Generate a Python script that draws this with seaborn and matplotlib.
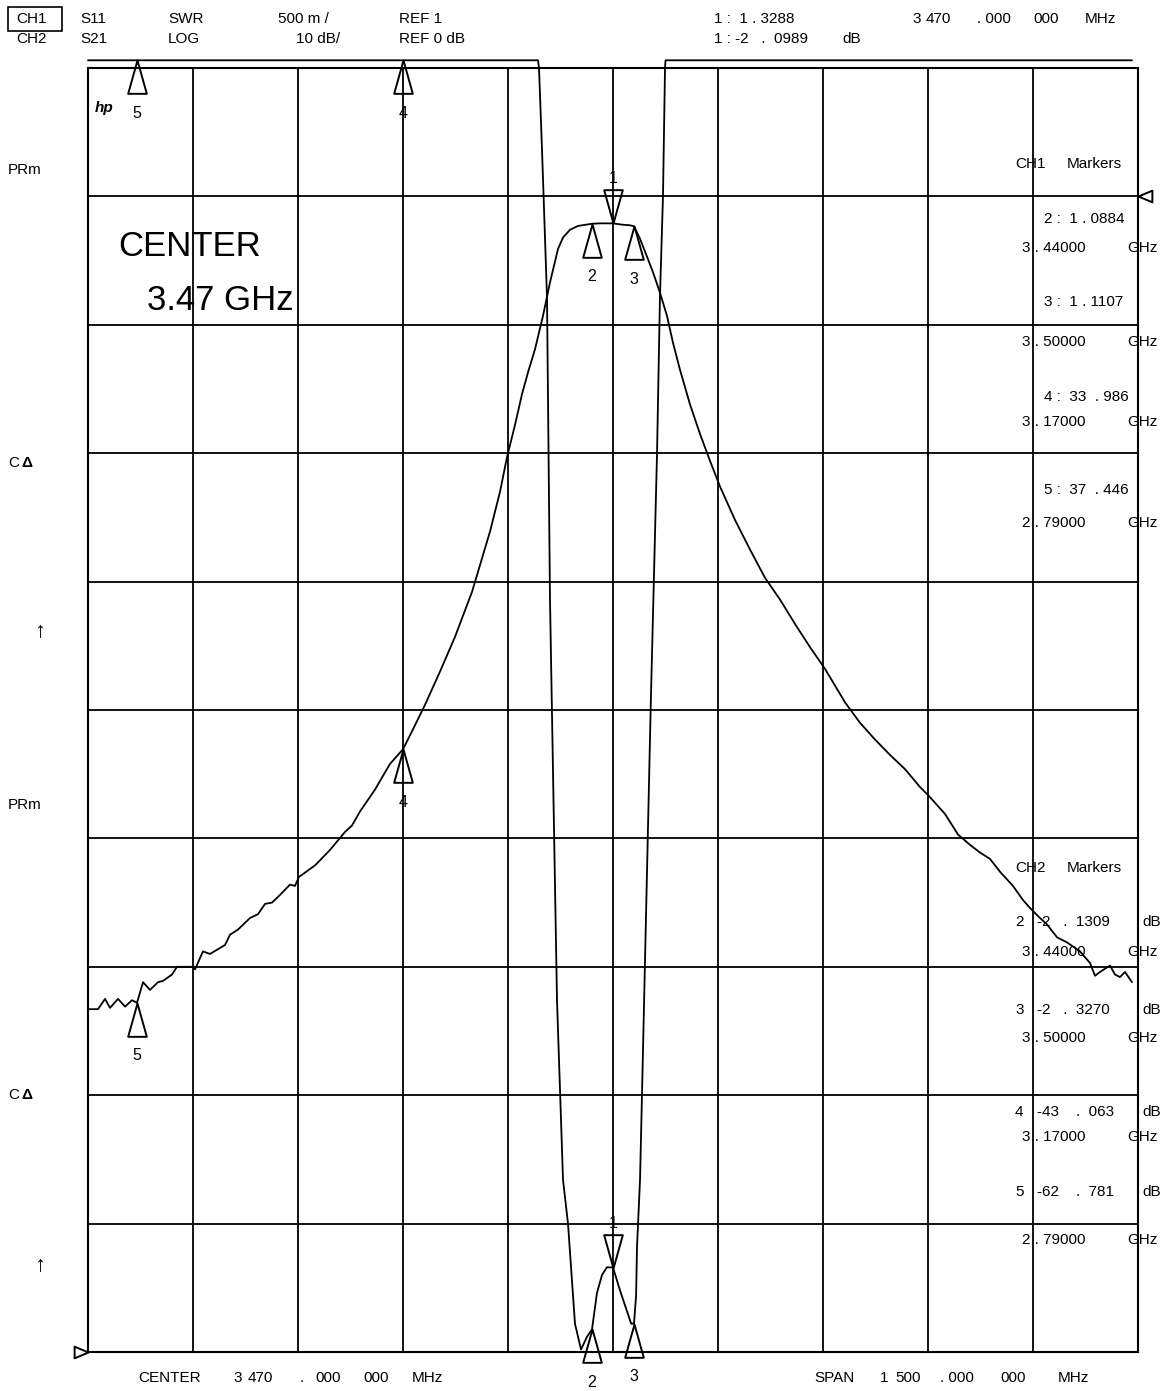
import numpy as np
import matplotlib
matplotlib.use("Agg")
import matplotlib.pyplot as plt
import seaborn as sns
from matplotlib.path import Path
from matplotlib.patches import Rectangle

# CH2: S21 log magnitude trace (GHz, dB)
s21_freq = [2.7200, 2.7201, 2.7257, 2.7343, 2.7443, 2.7514, 2.7629, 2.7729, 2.7829, 2.7900,
            2.7986, 2.8086, 2.8200, 2.8271, 2.8400, 2.8471, 2.8700, 2.8729, 2.8843, 2.8943,
            2.9157, 2.9229, 2.9343, 2.9514, 2.9629, 2.9729, 2.9829, 2.9943, 3.0086, 3.0157,
            3.0214, 3.0443, 3.0657, 3.0871, 3.0971, 3.1086, 3.1300, 3.1514, 3.1700, 3.1843,
            3.2014, 3.2229, 3.2443, 3.2686, 3.2943, 3.3086, 3.3186, 3.3300, 3.3400, 3.3486,
            3.3586, 3.3700, 3.3800, 3.3914, 3.3986, 3.4086, 3.4200, 3.4400, 3.4514, 3.4700,
            3.4829, 3.4943, 3.5000, 3.5086, 3.5186, 3.5271, 3.5371, 3.5471, 3.5557, 3.5657,
            3.5800, 3.5943, 3.6086, 3.6229, 3.6443, 3.6657, 3.6871, 3.7086, 3.7300, 3.7514,
            3.7729, 3.8014, 3.8229, 3.8443, 3.8657, 3.8871, 3.9086, 3.9214, 3.9443, 3.9629,
            3.9800, 3.9943, 4.0086, 4.0229, 4.0414, 4.0557, 4.0671, 4.0800, 4.0900, 4.1043,
            4.1186, 4.1371, 4.1514, 4.1586, 4.1657, 4.1800, 4.1871, 4.1943, 4.2014, 4.2114]
s21_db = [-63.9, -63.3, -63.3, -63.3, -62.5, -63.2, -62.5, -63.1, -62.6, -62.8,
          -61.2, -61.8, -61.2, -61.1, -60.6, -60.0, -60.0, -60.2, -58.8, -59.0,
          -58.3, -57.5, -57.1, -56.2, -55.9, -55.1, -55.0, -54.4, -53.6, -53.7,
          -53.0, -52.1, -50.9, -49.5, -49.0, -47.9, -46.2, -44.2, -43.06, -41.5,
          -39.6, -37.0, -34.3, -30.8, -26.1, -23.0, -20.3, -17.8, -15.4, -13.7,
          -11.9, -9.3, -6.7, -4.1, -3.2, -2.6, -2.3, -2.13, -2.10, -2.10,
          -2.2, -2.25, -2.33, -3.3, -4.7, -5.9, -7.5, -9.3, -11.4, -13.5,
          -16.2, -18.5, -20.6, -22.6, -25.2, -27.5, -29.7, -31.4, -33.3, -35.1,
          -36.8, -39.4, -41.0, -42.3, -43.5, -44.6, -46.0, -46.7, -48.1, -49.7,
          -50.5, -51.1, -51.6, -52.6, -53.7, -54.8, -55.5, -56.2, -56.7, -57.7,
          -58.1, -58.8, -59.7, -60.7, -60.4, -59.9, -60.6, -60.8, -60.4, -61.2]

# CH1: S11 SWR trace; off-screen values sit on the clip line just above the grid
s11_freq = [2.7200, 3.3629, 3.3643, 3.3686, 3.3757, 3.3800, 3.3900, 3.3986, 3.4057, 3.4157,
            3.4243, 3.4330, 3.4400, 3.4471, 3.4543, 3.4614, 3.4700, 3.4800, 3.4960, 3.5000,
            3.5030, 3.5043, 3.5086, 3.5114, 3.5241, 3.5329, 3.5371, 3.5414, 3.5443, 3.5450,
            4.2114]
s11_swr = [6.03, 6.03, 6.0, 5.68, 5.11, 3.93, 2.37, 1.67, 1.50, 1.11,
           1.01, 1.06, 1.088, 1.23, 1.30, 1.33, 1.329, 1.24, 1.11, 1.111,
           1.22, 1.41, 1.67, 2.0, 3.54, 4.50, 5.11, 5.50, 6.0, 6.03,
           6.03]

marker_ids = ["1", "2", "3", "4", "5"]
marker_freq = [3.47, 3.44, 3.50, 3.17, 2.79]
marker_s21 = [-2.0989, -2.1309, -2.3270, -43.063, -62.781]
marker_s11 = [1.3288, 1.0884, 1.1107, 33.986, 37.446]

center_ghz = 3.47
span_ghz = 1.5
s11_clip = 6.03

sns.set_style("white")
plt.rcParams["font.family"] = ["Liberation Sans Narrow", "Liberation Sans", "DejaVu Sans"]
plt.rcParams["text.color"] = "black"

W, H = 1170, 1391
fig = plt.figure(figsize=(W / 100, H / 100), dpi=100)
ax = fig.add_axes([88 / W, 1 - 1352 / H, 1050 / W, 1284 / H])

f0, f1 = center_ghz - span_ghz / 2, center_ghz + span_ghz / 2
ax.set_xlim(f0, f1)
ax.set_ylim(-90, 10)
ax.set_xticks(np.linspace(f0, f1, 11))
ax.set_yticks(np.arange(-90, 11, 10))
ax.grid(True, color="black", lw=1.3)
ax.tick_params(length=0, labelbottom=False, labelleft=False)
for s in ax.spines.values():
    s.set_color("black")
    s.set_linewidth(1.5)

ax2 = ax.twinx()
ax2.set_ylim(1, 6)
ax2.set_yticks([])
for s in ax2.spines.values():
    s.set_visible(False)

sns.lineplot(x=s21_freq, y=s21_db, ax=ax, color="black", lw=1.3, sort=False, estimator=None)
sns.lineplot(x=s11_freq, y=s11_swr, ax=ax2, color="black", lw=1.3, sort=False, estimator=None)
ax2.lines[-1].set_clip_on(False)
ax.set_xlabel("")
ax.set_ylabel("")
ax2.set_ylabel("")

# marker triangles with the apex on the point
up_tri = Path([(0, 0), (-0.28, -1), (0.28, -1), (0, 0)],
              [Path.MOVETO, Path.LINETO, Path.LINETO, Path.CLOSEPOLY])
down_tri = Path([(0, 0), (-0.28, 1), (0.28, 1), (0, 0)],
                [Path.MOVETO, Path.LINETO, Path.LINETO, Path.CLOSEPOLY])

def draw_markers(a, vals):
    for mid, f, v in zip(marker_ids, marker_freq, vals):
        down = mid == "1"
        a.plot(f, v, ls="none", marker=down_tri if down else up_tri, ms=48,
               mfc="none", mec="black", mew=1.4, clip_on=False)
        a.annotate(mid, (f, v), xytext=(0, 32 if down else -38), textcoords="offset points",
                   ha="center", va="center", fontsize=11.5, annotation_clip=False)

draw_markers(ax, marker_s21)
draw_markers(ax2, list(np.minimum(marker_s11, s11_clip)))

# reference position indicators
ref_left = Path([(0, 0), (-1, 0.42), (-1, -0.42), (0, 0)],
                [Path.MOVETO, Path.LINETO, Path.LINETO, Path.CLOSEPOLY])
ref_right = Path([(0, 0), (1, 0.42), (1, -0.42), (0, 0)],
                 [Path.MOVETO, Path.LINETO, Path.LINETO, Path.CLOSEPOLY])
ax.plot(f1, 0, ls="none", marker=ref_right, ms=20, mfc="none", mec="black", mew=1.4, clip_on=False)
ax2.plot(f0, 1, ls="none", marker=ref_left, ms=20, mfc="none", mec="black", mew=1.4, clip_on=False)


def txt(x, y, s, **kw):
    kw.setdefault("fontsize", 11)
    kw.setdefault("va", "center")
    kw.setdefault("ha", "left")
    fig.text(x / W, 1 - y / H, s, **kw)


# header
fig.patches.append(Rectangle((8 / W, 1 - 31 / H), 54 / W, 24 / H, transform=fig.transFigure,
                             fill=False, ec="black", lw=1.2))
for x, s in [(16, "CH1"), (80, "S11"), (168, "SWR"), (278, "500 m /"), (399, "REF 1"),
             (714, "1 :  1 . 3288"), (912, "3"), (926, "470"), (977, ". 000"), (1033, "000"),
             (1085, "MHz")]:
    txt(x, 19, s)
for x, s in [(16, "CH2"), (80, "S21"), (168, "LOG"), (296, "10 dB/"), (399, "REF 0 dB"),
             (714, "1 : -2   .  0989"), (842, "dB")]:
    txt(x, 39, s)

# side annotations
for y in [170, 805]:
    txt(8, y, "PRm")
for y in [463, 1095]:
    txt(8, y, "C")
    txt(21, y, "\u0394", fontweight="bold")
for y in [632, 1265]:
    txt(34, y, "\u2191", fontsize=16, fontweight="bold")

txt(95, 108, "hp", fontsize=11, fontweight="bold", style="italic")

txt(118, 246, "CENTER", fontsize=25)
txt(147, 300, "3.47 GHz", fontsize=25)

# CH1 marker table
txt(1015, 164, "CH1")
txt(1067, 164, "Markers")
for y, s in [(219, "2 :  1 . 0884"), (302, "3 :  1 . 1107"), (397, "4 :  33  . 986"), (490, "5 :  37  . 446")]:
    txt(1044, y, s)
for y, s in [(248, "3 . 44000"), (342, "3 . 50000"), (422, "3 . 17000"), (523, "2 . 79000")]:
    txt(1022, y, s)
    txt(1127, y, "GHz")

# CH2 marker table
txt(1015, 868, "CH2")
txt(1067, 868, "Markers")
for y, n, s in [(922, "2", "-2   .  1309"), (1010, "3", "-2   .  3270"),
                (1112, "4", "-43    .  063"), (1192, "5", "-62    .  781")]:
    txt(1015, y, n)
    txt(1037, y, s)
    txt(1142, y, "dB")
for y, s in [(952, "3 . 44000"), (1038, "3 . 50000"), (1137, "3 . 17000"), (1240, "2 . 79000")]:
    txt(1022, y, s)
    txt(1127, y, "GHz")

# footer
for x, s in [(138, "CENTER"), (233, "3"), (248, "470"), (300, "."), (315, "000"), (363, "000"),
             (412, "MHz"), (814, "SPAN"), (880, "1"), (895, "500"), (940, ". 000"), (1000, "000"),
             (1058, "MHz")]:
    txt(x, 1378, s)

fig.savefig("out.png", dpi=100)
